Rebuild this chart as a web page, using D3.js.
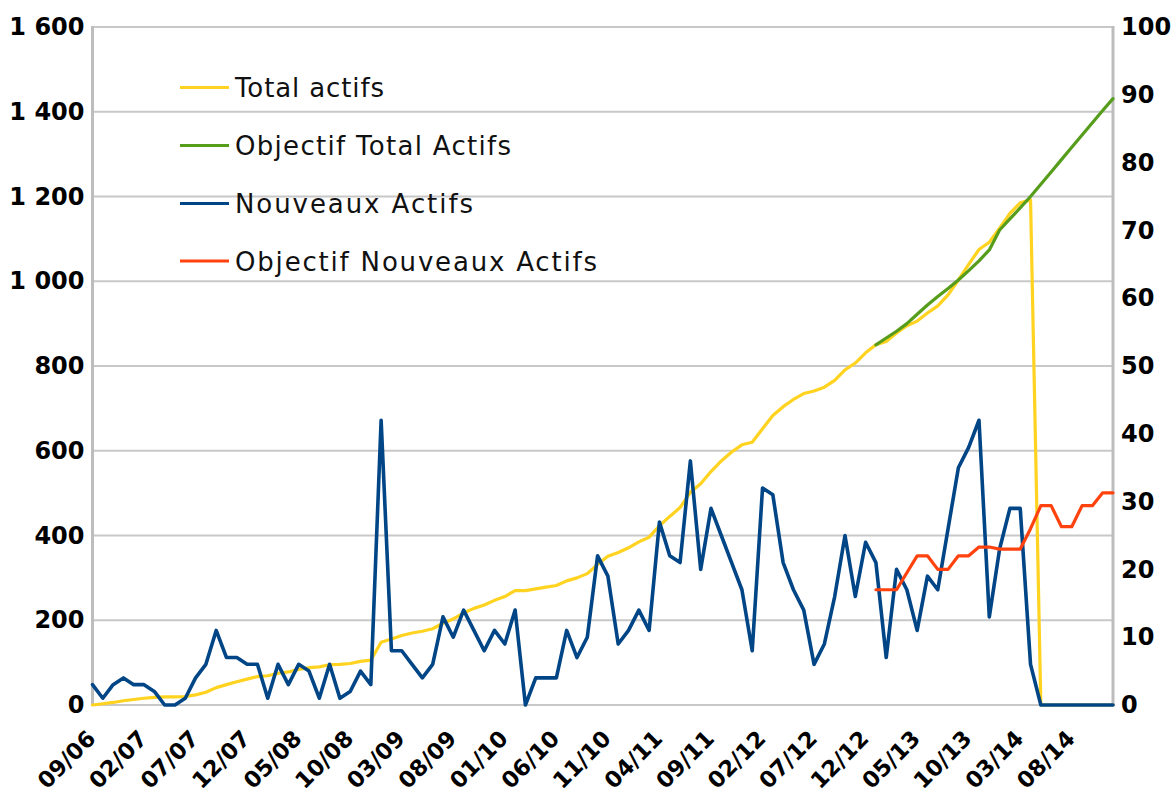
<!DOCTYPE html>
<html><head><meta charset="utf-8">
<script src="https://cdn.jsdelivr.net/npm/d3@7"></script>
<style>body{margin:0;background:#fff}svg{display:block}</style>
</head><body>
<svg id="chart" width="1174" height="796"></svg>
<script>
// ---- data ----
const months = [
 "09/06","10/06","11/06","12/06",
 "01/07","02/07","03/07","04/07","05/07","06/07","07/07","08/07","09/07","10/07","11/07","12/07",
 "01/08","02/08","03/08","04/08","05/08","06/08","07/08","08/08","09/08","10/08","11/08","12/08",
 "01/09","02/09","03/09","04/09","05/09","06/09","07/09","08/09","09/09","10/09","11/09","12/09",
 "01/10","02/10","03/10","04/10","05/10","06/10","07/10","08/10","09/10","10/10","11/10","12/10",
 "01/11","02/11","03/11","04/11","05/11","06/11","07/11","08/11","09/11","10/11","11/11","12/11",
 "01/12","02/12","03/12","04/12","05/12","06/12","07/12","08/12","09/12","10/12","11/12","12/12",
 "01/13","02/13","03/13","04/13","05/13","06/13","07/13","08/13","09/13","10/13","11/13","12/13",
 "01/14","02/14","03/14","04/14","05/14","06/14","07/14","08/14","09/14","10/14","11/14","12/14"
];
const tickLabels = ["09/06","02/07","07/07","12/07","05/08","10/08","03/09","08/09","01/10","06/10",
 "11/10","04/11","09/11","02/12","07/12","12/12","05/13","10/13","03/14","08/14"];
const leftTicks = [0,200,400,600,800,1000,1200,1400,1600];
const rightTicks = [0,10,20,30,40,50,60,70,80,90,100];

// Total actifs (left axis)
const totalActifs = [
 0,3,6,10,13,16,18,19,19,20,
 24,30,41,48,55,61,67,69,75,78,
 84,88,90,95,96,98,103,106,148,156,
 164,170,174,180,193,203,217,228,236,247,
 256,270,270,274,278,282,293,300,310,332,
 351,360,371,385,396,423,445,466,502,522,
 551,576,597,614,620,652,683,704,721,735,
 741,750,766,791,807,831,850,858,878,895,
 906,925,942,968,1003,1040,1075,1092,1125,1160,
 1185,1192,0,0,0,0,0,0,0,0];
// Nouveaux Actifs (right axis)
const nouveauxActifs = [
 3,1,3,4,3,3,2,0,0,1,
 4,6,11,7,7,6,6,1,6,3,
 6,5,1,6,1,2,5,3,42,8,
 8,6,4,6,13,10,14,11,8,11,
 9,14,0,4,4,4,11,7,10,22,
 19,9,11,14,11,27,22,21,36,20,
 29,25,21,17,8,32,31,21,17,14,
 6,9,16,25,16,24,21,7,20,17,
 11,19,17,26,35,38,42,13,23,29,
 29,6,0,0,0,0,0,0,0,0];
// Objectives start in 01/13
const objectifStart = "01/13";
const objectifTotalActifs = [850,866,882,900,922,944,964,983,1003,1025,1048,1074,
 1121,1147,1173,1200,1229,1258,1287,1316,1345,1374,1403,1431];
const objectifNouveauxActifs = [17,17,17,19.5,22,22,20,20,22,22,23.3,23.3,
 23,23,23,26,29.4,29.4,26.3,26.3,29.4,29.4,31.3,31.3];

const seriesNames = ["Total actifs","Objectif Total Actifs","Nouveaux Actifs","Objectif Nouveaux Actifs"];
const seriesColors = ["#ffd320","#579d1c","#004586","#ff420e"];

// ---- layout ----
const plot = {left: 92.5, right: 1113, top: 27, bottom: 705};
const svg = d3.select("#chart");

const x = d3.scalePoint().domain(months).range([plot.left, plot.right]);
const yL = d3.scaleLinear().domain([0,1600]).range([plot.bottom, plot.top]);
const yR = d3.scaleLinear().domain([0,100]).range([plot.bottom, plot.top]);

const fmtL = d => d >= 1000 ? Math.floor(d/1000) + "\u00a0" + String(d % 1000).padStart(3,"0") : String(d);

// gridlines
svg.append("g").selectAll("line").data(leftTicks).join("line")
  .attr("x1", plot.left).attr("x2", plot.right)
  .attr("y1", d => yL(d)).attr("y2", d => yL(d))
  .attr("stroke", "#c8c8c8").attr("stroke-width", 2);

// vertical axis lines
svg.append("line").attr("x1", plot.left).attr("x2", plot.left)
  .attr("y1", plot.top - 1).attr("y2", plot.bottom + 1)
  .attr("stroke", "#bdbdbd").attr("stroke-width", 3);
svg.append("line").attr("x1", plot.right).attr("x2", plot.right)
  .attr("y1", plot.top - 1).attr("y2", plot.bottom + 1)
  .attr("stroke", "#bdbdbd").attr("stroke-width", 3);

const labelFont = "'DejaVu Sans', sans-serif";

// left axis
const gL = svg.append("g").attr("transform", `translate(${plot.left},0)`)
  .call(d3.axisLeft(yL).tickValues(leftTicks).tickFormat(fmtL).tickSize(0).tickPadding(8));
gL.select(".domain").remove();
gL.selectAll("text").attr("font-family", labelFont).attr("font-weight", "bold")
  .attr("font-size", 24).attr("fill", "#000");

// right axis
const gR = svg.append("g").attr("transform", `translate(${plot.right},0)`)
  .call(d3.axisRight(yR).tickValues(rightTicks).tickSize(0).tickPadding(8));
gR.select(".domain").remove();
gR.selectAll("text").attr("font-family", labelFont).attr("font-weight", "bold")
  .attr("font-size", 24).attr("fill", "#000");

// bottom axis
const gB = svg.append("g").attr("transform", `translate(0,${plot.bottom})`)
  .call(d3.axisBottom(x).tickValues(tickLabels).tickSize(0));
gB.select(".domain").remove();
gB.selectAll("text")
  .attr("font-family", labelFont).attr("font-weight", "bold")
  .attr("font-size", 22.5).attr("fill", "#000")
  .attr("text-anchor", "end").attr("x", 0).attr("y", 0).attr("dy", 0)
  .attr("transform", "translate(4,35) rotate(-45)");

// ---- lines ----
const idx0 = months.indexOf(objectifStart);
const mkPts = (arr, off) => arr.map((v, i) => ({m: months[i + off], v}));

const lineL = d3.line().x(d => x(d.m)).y(d => yL(d.v));
const lineR = d3.line().x(d => x(d.m)).y(d => yR(d.v));

const gLines = svg.append("g").attr("fill", "none")
  .attr("stroke-linejoin", "round").attr("stroke-linecap", "round");

gLines.append("path").datum(mkPts(totalActifs, 0)).attr("d", lineL)
  .attr("stroke", seriesColors[0]).attr("stroke-width", 3.2);
gLines.append("path").datum(mkPts(objectifTotalActifs, idx0)).attr("d", lineL)
  .attr("stroke", seriesColors[1]).attr("stroke-width", 3.2);
gLines.append("path").datum(mkPts(nouveauxActifs, 0)).attr("d", lineR)
  .attr("stroke", seriesColors[2]).attr("stroke-width", 3.6);
gLines.append("path").datum(mkPts(objectifNouveauxActifs, idx0)).attr("d", lineR)
  .attr("stroke", seriesColors[3]).attr("stroke-width", 3.2);

// ---- legend ----
const legendY = [87.5, 145.5, 203.5, 261];
const legendW = [149, 276, 238, 362];
const lg = svg.append("g");
seriesNames.forEach((name, i) => {
  lg.append("line").attr("x1", 180).attr("x2", 229)
    .attr("y1", legendY[i]).attr("y2", legendY[i])
    .attr("stroke", seriesColors[i]).attr("stroke-width", 3.2);
  lg.append("text").attr("x", 235).attr("y", legendY[i] + 9.5)
    .attr("font-family", labelFont).attr("font-size", 26).attr("fill", "#111")
    .attr("textLength", legendW[i]).attr("lengthAdjust", "spacing")
    .text(name);
});
</script>
</body></html>
